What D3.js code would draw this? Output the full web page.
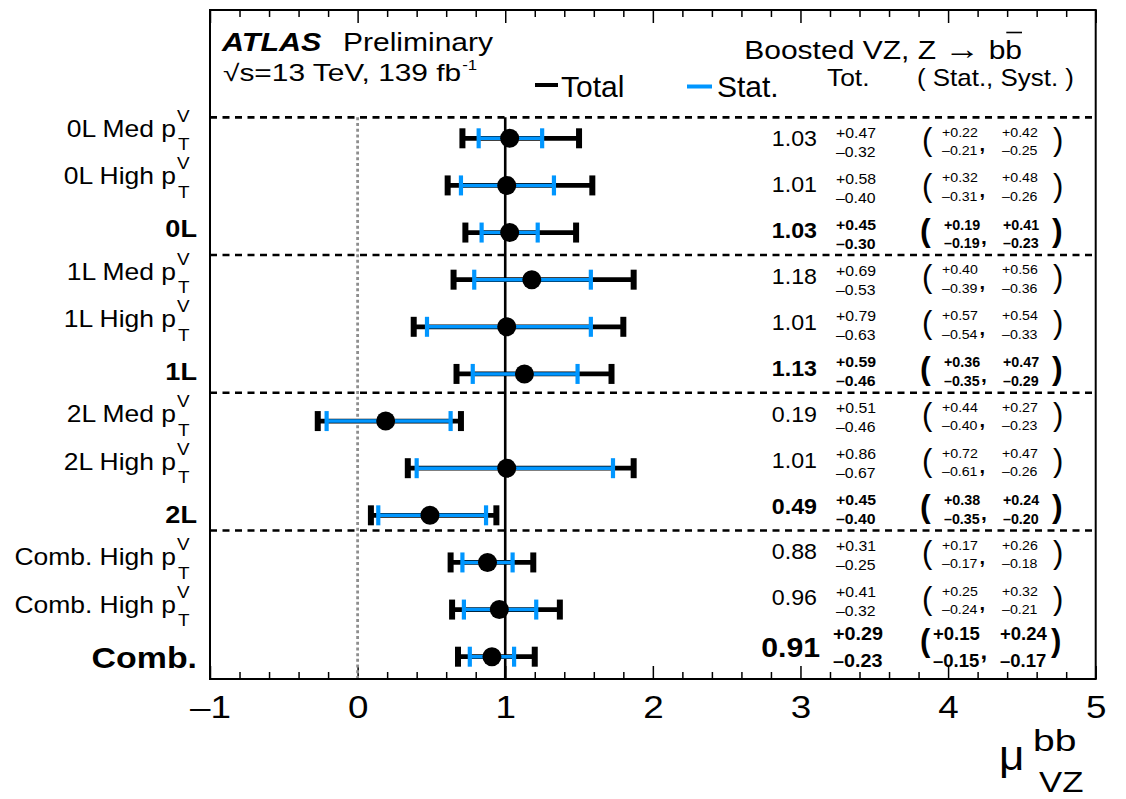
<!DOCTYPE html>
<html>
<head>
<meta charset="utf-8">
<script src="https://cdn.jsdelivr.net/npm/d3@7"></script>
<style>
  html, body { margin: 0; padding: 0; background: #fff; }
  svg { display: block; font-family: "Liberation Sans", Arial, Helvetica, sans-serif; }
</style>
</head>
<body>
<svg id="chart" width="1126" height="799"></svg>
<script>
// ---- data: signal strength per analysis region ----
const categories = ["0L Med", "0L High", "0L", "1L Med", "1L High", "1L",
                    "2L Med", "2L High", "2L", "Comb. High", "Comb. High", "Comb."];
const rowType = ["bin", "bin", "channel", "bin", "bin", "channel",
                 "bin", "bin", "channel", "bin", "bin", "combined"];
const mu       = [1.03, 1.01, 1.03, 1.18, 1.01, 1.13, 0.19, 1.01, 0.49, 0.88, 0.96, 0.91];
const totUp    = [0.47, 0.58, 0.45, 0.69, 0.79, 0.59, 0.51, 0.86, 0.45, 0.31, 0.41, 0.29];
const totDown  = [0.32, 0.40, 0.30, 0.53, 0.63, 0.46, 0.46, 0.67, 0.40, 0.25, 0.32, 0.23];
const statUp   = [0.22, 0.32, 0.19, 0.40, 0.57, 0.36, 0.44, 0.72, 0.38, 0.17, 0.25, 0.15];
const statDown = [0.21, 0.31, 0.19, 0.39, 0.54, 0.35, 0.40, 0.61, 0.35, 0.17, 0.24, 0.15];
const systUp   = [0.42, 0.48, 0.41, 0.56, 0.54, 0.47, 0.27, 0.47, 0.24, 0.26, 0.32, 0.24];
const systDown = [0.25, 0.26, 0.23, 0.36, 0.33, 0.29, 0.23, 0.26, 0.20, 0.18, 0.21, 0.17];
const xTickValues = [-1, 0, 1, 2, 3, 4, 5];
const xTickLabels = ["\u20131", "0", "1", "2", "3", "4", "5"];

// ---- layout ----
const frame = { left: 210, right: 1095.7, top: 10, bottom: 679 };
const x = d3.scaleLinear().domain([-1, 5]).range([frame.left, frame.right]);
const yMark  = d3.scaleLinear().domain([0, 11]).range([138.3, 656.7]);  // markers
const yText  = d3.scaleLinear().domain([0, 11]).range([142.3, 647.2]);  // result column
const yLabel = d3.scaleLinear().domain([0, 11]).range([136.7, 660.6]);  // row names

const BLUE = "#0096ff";
const svg = d3.select("#chart");
svg.append("rect").attr("width", 1126).attr("height", 799).attr("fill", "#fff");

// text helper with horizontal stretch
function txt(parent, px, py, str, o = {}) {
  return parent.append("text")
    .attr("transform", `translate(${px},${py}) scale(${o.sx || 1},1)`)
    .attr("text-anchor", o.anchor || "start")
    .style("font-size", (o.size || 20) + "px")
    .style("font-weight", o.weight || "normal")
    .style("font-style", o.style || "normal")
    .attr("fill", o.fill || "#000")
    .text(str);
}
const width = (t, sx) => t.node().getComputedTextLength() * (sx || 1);

// ---- axes ticks (bottom & top, major + minor) ----
const minorTicks = d3.range(0, 31).filter(i => i % 5 !== 0).map(i => -1 + i * 0.2);
function tickAxis(axisFn, yPos, values, len) {
  const g = svg.append("g").attr("transform", `translate(0,${yPos})`)
    .call(axisFn(x).tickValues(values).tickSize(-len).tickFormat(""));
  g.select(".domain").remove();
  g.selectAll("line").attr("stroke-width", 1.5);
  return g;
}
tickAxis(d3.axisBottom, frame.bottom, xTickValues, 13);
tickAxis(d3.axisBottom, frame.bottom, minorTicks, 7);
tickAxis(d3.axisTop, frame.top, xTickValues, 13);
tickAxis(d3.axisTop, frame.top, minorTicks, 7);

// tick labels through the axis generator
const lab = svg.append("g").attr("transform", `translate(0,${frame.bottom})`)
  .call(d3.axisBottom(x).tickValues(xTickValues).tickSize(0)
        .tickFormat((d, i) => xTickLabels[i]));
lab.select(".domain").remove();
lab.attr("font-family", null).attr("font-size", null);
lab.selectAll("text")
  .attr("y", 39).attr("dy", null)
  .attr("transform", "scale(1.15,1)")
  .style("font-size", "32px").attr("fill", "#000");

// ---- group separators ----
const sepRows = d3.range(categories.length).filter(i => i === 0 || rowType[i - 1] !== "bin");
sepRows.forEach(i => {
  const yy = yText(i - 0.5) - 2;
  svg.append("line").attr("x1", frame.left).attr("x2", frame.right)
    .attr("y1", yy).attr("y2", yy)
    .attr("stroke", "#000").attr("stroke-width", 2.6).attr("stroke-dasharray", "7,5.5");
});
const topSep = yText(-0.5) - 2;

// reference lines at mu = 0 and mu = 1
svg.append("line").attr("x1", x(0)).attr("x2", x(0)).attr("y1", topSep).attr("y2", frame.bottom)
  .attr("stroke", "#8e8e8e").attr("stroke-width", 2.8).attr("stroke-dasharray", "3,2.7");
svg.append("line").attr("x1", x(1)).attr("x2", x(1)).attr("y1", topSep).attr("y2", frame.bottom)
  .attr("stroke", "#000").attr("stroke-width", 2.6);

// ---- error bars and markers ----
const bars = svg.append("g");
categories.forEach((c, i) => {
  const yy = yMark(i);
  const t0 = x(mu[i] - totDown[i]), t1 = x(mu[i] + totUp[i]);
  const s0 = x(mu[i] - statDown[i]), s1 = x(mu[i] + statUp[i]);
  bars.append("line").attr("x1", t0).attr("x2", t1).attr("y1", yy).attr("y2", yy)
    .attr("stroke", "#000").attr("stroke-width", 4.8);
  [t0, t1].forEach(xx => bars.append("line").attr("x1", xx).attr("x2", xx)
    .attr("y1", yy - 10).attr("y2", yy + 10).attr("stroke", "#000").attr("stroke-width", 6));
  bars.append("line").attr("x1", s0).attr("x2", s1).attr("y1", yy).attr("y2", yy)
    .attr("stroke", BLUE).attr("stroke-width", 3.4);
  [s0, s1].forEach(xx => bars.append("line").attr("x1", xx).attr("x2", xx)
    .attr("y1", yy - 10).attr("y2", yy + 10).attr("stroke", BLUE).attr("stroke-width", 4.2));
  bars.append("circle").attr("cx", x(mu[i])).attr("cy", yy).attr("r", 9.5).attr("fill", "#000");
});

// ---- row names ----
const names = svg.append("g");
categories.forEach((c, i) => {
  const b = yLabel(i);
  if (rowType[i] === "bin") {
    txt(names, 176, b, c + " p", { anchor: "end", size: 23, sx: 1.15 });
    txt(names, 177, b - 15, "V", { size: 16, sx: 1.18 });
    txt(names, 178, b + 13.3, "T", { size: 16, sx: 1.18 });
  } else if (rowType[i] === "channel") {
    txt(names, 197, b + 5, c, { anchor: "end", size: 23, weight: "bold", sx: 1.18 });
  } else {
    txt(names, 197, b + 7, c, { anchor: "end", size: 30, weight: "bold", sx: 1.13 });
  }
});

// ---- result column: value, total, (stat, syst) ----
const fmt = d3.format(".2f");
const up = v => "+" + fmt(v);
const dn = v => "\u2013" + fmt(v);
const rowStyle = {
  bin: { w: "normal", valSize: 21.5, valX: 817, valDy: 4,
         totSize: 14, totSX: 1.13, totX: 836, totUp: -4.5, totDn: 14.5,
         numSize: 13.5, numSX: 1.05, statX: 942, systX: 1002, numUp: -5.8, numDn: 12.7,
         parSize: 31, parL: 922, parR: 1053, parDy: 7.3, commaX: 979.5, commaDy: 9, commaSize: 20 },
  channel: { w: "bold", valSize: 21.5, valX: 817, valDy: 4,
         totSize: 14, totSX: 1.13, totX: 836, totUp: -4.5, totDn: 14.5,
         numSize: 14, numSX: 1.02, statX: 944, systX: 1003, numUp: -4.5, numDn: 14,
         parSize: 32, parL: 920, parR: 1052, parDy: 7.3, commaX: 981, commaDy: 10, commaSize: 21 },
  combined: { w: "bold", valSize: 28, valX: 820, valDy: 10,
         totSize: 18.5, totSX: 1.07, totX: 833, totUp: -7, totDn: 20,
         numSize: 18.5, numSX: 1.0, statX: 933, systX: 1000, numUp: -7.2, numDn: 19.5,
         parSize: 31, parL: 920, parR: 1051, parDy: 3.5, commaX: 980.5, commaDy: 12, commaSize: 24 }
};
const res = svg.append("g");
categories.forEach((c, i) => {
  const s = rowStyle[rowType[i]], cy = yText(i);
  txt(res, s.valX, cy + s.valDy, fmt(mu[i]), { anchor: "end", size: s.valSize, weight: s.w, sx: 1.08 });
  txt(res, s.totX, cy + s.totUp, up(totUp[i]), { size: s.totSize, weight: s.w, sx: s.totSX });
  txt(res, s.totX, cy + s.totDn, dn(totDown[i]), { size: s.totSize, weight: s.w, sx: s.totSX });
  txt(res, s.parL, cy + s.parDy, "(", { size: s.parSize, weight: s.w });
  txt(res, s.statX, cy + s.numUp, up(statUp[i]), { size: s.numSize, weight: s.w, sx: s.numSX });
  txt(res, s.statX, cy + s.numDn, dn(statDown[i]), { size: s.numSize, weight: s.w, sx: s.numSX });
  txt(res, s.commaX, cy + s.commaDy, ",", { size: s.commaSize, weight: "bold" });
  txt(res, s.systX, cy + s.numUp, up(systUp[i]), { size: s.numSize, weight: s.w, sx: s.numSX });
  txt(res, s.systX, cy + s.numDn, dn(systDown[i]), { size: s.numSize, weight: s.w, sx: s.numSX });
  txt(res, s.parR, cy + s.parDy, ")", { size: s.parSize, weight: s.w });
});

// ---- header ----
const head = svg.append("g");
txt(head, 222, 51, "ATLAS", { size: 25, weight: "bold", style: "italic", sx: 1.22 });
txt(head, 343, 51, "Preliminary", { size: 25, sx: 1.2 });
const lumi = txt(head, 223, 81, "\u221As=13 TeV, 139 fb", { size: 23, sx: 1.3 });
txt(head, 223 + width(lumi, 1.3) + 1, 70, "-1", { size: 14, sx: 1.2 });

const proc = txt(head, 1022, 59, "Boosted VZ, Z ", { anchor: "end", size: 25, sx: 1.2 });
proc.append("tspan").style("font-size", "30px").text("\u2192");
proc.append("tspan").text(" bb");
const bw = proc.node().getSubStringLength(proc.text().length - 1, 1) * 1.2;
head.append("line").attr("x1", 1022 - bw + 1).attr("x2", 1022).attr("y1", 32.5).attr("y2", 32.5)
  .attr("stroke", "#000").attr("stroke-width", 1.6);

// legend
head.append("line").attr("x1", 535).attr("x2", 558).attr("y1", 85).attr("y2", 85)
  .attr("stroke", "#000").attr("stroke-width", 4);
txt(head, 561, 97, "Total", { size: 30 });
head.append("line").attr("x1", 687).attr("x2", 712).attr("y1", 86.5).attr("y2", 86.5)
  .attr("stroke", BLUE).attr("stroke-width", 4);
txt(head, 717, 97, "Stat.", { size: 30 });
txt(head, 827, 86, "Tot.", { size: 24, sx: 1.1 });
txt(head, 917, 86, "( Stat., Syst. )", { size: 24, sx: 1.08 });

// ---- axis title ----
txt(svg, 999, 770, "\u03BC", { size: 42, sx: 1.05 });
txt(svg, 1033, 751, "bb", { size: 30, sx: 1.3 });
txt(svg, 1039, 792, "VZ", { size: 29, sx: 1.2 });

// ---- frame ----
svg.append("rect").attr("x", frame.left).attr("y", frame.top)
  .attr("width", frame.right - frame.left).attr("height", frame.bottom - frame.top)
  .attr("fill", "none").attr("stroke", "#000").attr("stroke-width", 2);
</script>
</body>
</html>
